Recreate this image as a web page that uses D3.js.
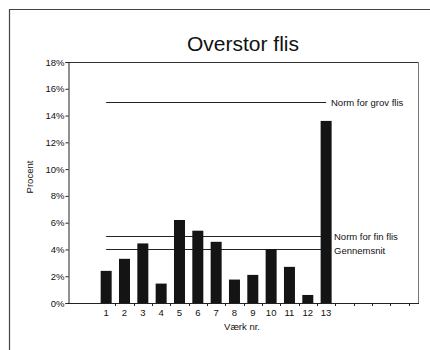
<!DOCTYPE html>
<html lang="da">
<head>
	<meta charset="utf-8">
	<title>Overstor flis</title>
	<script src="https://d3js.org/d3.v7.min.js"></script>
	<style type="text/css">
		body { margin: 0; background: #fff; }
		svg text { font-family: "Liberation Sans", Arial, sans-serif; fill: #111; }
	</style>
</head>
<body>
	<svg id="chart-svg"></svg>

	<script type="text/javascript">
		// data
		let vaerk = ['1', '2', '3', '4', '5', '6', '7', '8', '9', '10', '11', '12', '13']
		let procent = [2.4, 3.3, 4.45, 1.45, 6.2, 5.4, 4.57, 1.75, 2.1, 4.03, 2.7, 0.6, 13.6]
		let emptySlots = ['e1', 'e2', 'e3', 'e4']
		let refNames = ['Norm for grov flis', 'Norm for fin flis', 'Gennemsnit']
		let refValues = [15, 5, 4.03]
		let yTicks = [0, 2, 4, 6, 8, 10, 12, 14, 16, 18]

		let w = 430
		let h = 350
		let plotLeft = 68, plotRight = 418, plotTop = 62, plotBottom = 303

		let svg = d3.select('#chart-svg')
			.attr('width', w)
			.attr('height', h)

		// outer frame (left + top edge only, like the scan)
		svg.append('line').attr('x1', 9.5).attr('x2', 9.5).attr('y1', 9).attr('y2', 350)
			.attr('stroke', '#444').attr('stroke-width', 1.2)
		svg.append('line').attr('x1', 9).attr('x2', 430).attr('y1', 9.5).attr('y2', 9.5)
			.attr('stroke', '#444').attr('stroke-width', 1.2)

		let yScale = d3.scaleLinear()
			.domain([0, 18])
			.range([plotBottom, plotTop])

		let step = 18.33
		let xScale = d3.scaleBand()
			.domain(vaerk.concat(emptySlots))
			.range([97, 97 + step * (vaerk.length + emptySlots.length)])
			.paddingInner(0.4)
			.paddingOuter(0.2)

		// plot box top + right
		svg.append('line').attr('x1', plotLeft).attr('x2', plotRight + 0.5).attr('y1', plotTop + 0.5).attr('y2', plotTop + 0.5)
			.attr('stroke', '#333')
		svg.append('line').attr('x1', plotRight + 0.5).attr('x2', plotRight + 0.5).attr('y1', plotTop).attr('y2', plotBottom)
			.attr('stroke', '#777')

		// reference lines, from centre of first bar to centre of last bar
		let x0 = xScale('1') + xScale.bandwidth() / 2
		let x1 = xScale('13') + xScale.bandwidth() / 2
		svg.selectAll('.ref')
			.data(refValues)
			.enter()
			.append('line')
			.attr('class', 'ref')
			.attr('x1', x0)
			.attr('x2', x1)
			.attr('y1', (d) => Math.round(yScale(d)) + 0.5)
			.attr('y2', (d) => Math.round(yScale(d)) + 0.5)
			.attr('stroke', '#222')
			.attr('stroke-width', 1)

		// bars
		svg.selectAll('.bar')
			.data(procent)
			.enter()
			.append('rect')
			.attr('class', 'bar')
			.attr('x', (d, i) => xScale(vaerk[i]))
			.attr('width', xScale.bandwidth())
			.attr('y', (d) => yScale(d))
			.attr('height', (d) => yScale(0) - yScale(d))
			.attr('fill', '#141414')

		// labels for reference lines
		let labelX = [331, 334, 334]
		svg.selectAll('.reflabel')
			.data(refNames)
			.enter()
			.append('text')
			.attr('class', 'reflabel')
			.attr('x', (d, i) => labelX[i])
			.attr('y', (d, i) => (i == 2 ? yScale(refValues[i]) + 1 : yScale(refValues[i])) + 3.5)
			.attr('font-size', '9.5px')
			.text((d) => d)

		// y axis
		let yAxis = d3.axisLeft(yScale)
			.tickValues(yTicks)
			.tickSize(3)
			.tickFormat((d) => d + '%')
		let yg = svg.append('g')
			.attr('transform', 'translate(' + (plotLeft + 0.5) + ',0)')
			.call(yAxis)
		yg.select('.domain').attr('stroke', '#222')
		yg.selectAll('.tick line').attr('stroke', '#222')
		yg.selectAll('.tick text').attr('font-size', '9.5px').attr('x', -4).attr('font-family', '"Liberation Sans", Arial, sans-serif')

		// x axis line across whole plot
		svg.append('line').attr('x1', plotLeft).attr('x2', plotRight + 1).attr('y1', plotBottom + 0.5).attr('y2', plotBottom + 0.5)
			.attr('stroke', '#222')

		// ticks between categories (Excel style)
		let allKeys = xScale.domain()
		let boundary = (d) => Math.round(xScale(d) - xScale.step() * xScale.paddingInner() / 2 + xScale.step()) + 0.5
		svg.selectAll('.xtick')
			.data(allKeys)
			.enter()
			.append('line')
			.attr('class', 'xtick')
			.attr('x1', boundary)
			.attr('x2', boundary)
			.attr('y1', plotBottom)
			.attr('y2', plotBottom + 3)
			.attr('stroke', '#222')

		svg.selectAll('.xlabel')
			.data(vaerk)
			.enter()
			.append('text')
			.attr('class', 'xlabel')
			.attr('x', (d) => xScale(d) + xScale.bandwidth() / 2)
			.attr('y', 316)
			.attr('text-anchor', 'middle')
			.attr('font-size', '9.5px')
			.text((d) => d)

		// titles
		svg.append('text')
			.attr('x', 243)
			.attr('y', 51)
			.attr('text-anchor', 'middle')
			.attr('font-size', '21px')
			.text('Overstor flis')

		svg.append('text')
			.attr('x', 242)
			.attr('y', 330)
			.attr('text-anchor', 'middle')
			.attr('font-size', '9.5px')
			.text('Værk nr.')

		svg.append('text')
			.attr('transform', 'translate(33,177) rotate(-90)')
			.attr('text-anchor', 'middle')
			.attr('font-size', '9.5px')
			.text('Procent')
	</script>
</body>
</html>
